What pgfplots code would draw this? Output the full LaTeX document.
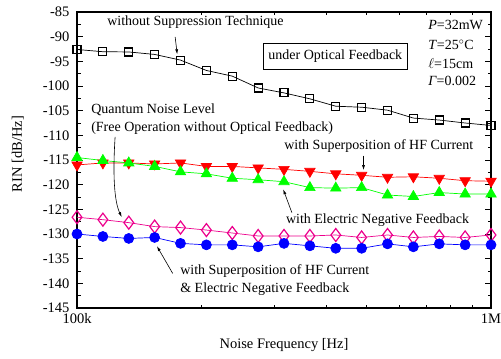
\documentclass[border=0pt]{standalone}
\usepackage{fontspec}
\setmainfont{Liberation Serif}
\usepackage{pgfplots}
\pgfplotsset{compat=1.18}
\usepackage{pgfplotstable}
\usetikzlibrary{arrows.meta}

\pgfplotstableread{
f       bk      red     green   pink    blue
100000  -92.6   -116.0  -114.5  -126.6  -130.0
115478  -93.05  -115.6  -115.1  -127.1  -130.5
133352  -93.1   -115.6  -115.6  -127.7  -130.9
153993  -93.6   -115.8  -116.3  -128.5  -130.7
177828  -94.75  -115.6  -117.4  -128.7  -131.9
205353  -96.85  -116.3  -117.8  -129.2  -132.2
237137  -98.0   -116.3  -118.7  -129.8  -132.2
273842  -100.4  -116.6  -119.0  -130.4  -132.6
316228  -101.4  -116.9  -119.4  -130.4  -131.9
365174  -102.6  -117.3  -120.6  -130.4  -132.4
421697  -104.1  -117.8  -120.7  -130.2  -132.9
486968  -104.3  -118.1  -120.6  -130.7  -132.9
562341  -104.9  -118.5  -122.1  -130.2  -132.0
649382  -106.5  -118.4  -122.4  -130.7  -132.6
749894  -106.9  -118.7  -121.6  -130.5  -132.0
865964  -107.5  -119.2  -121.9  -130.7  -132.2
1000000 -108.0  -119.3  -121.9  -130.2  -132.2
}\data

\begin{document}
\begin{tikzpicture}
\begin{axis}[
  scale only axis, width=414pt, height=296pt,
  xmode=log, xmin=1e5, xmax=1e6, ymin=-145, ymax=-85,
  xtick={1e5,1e6}, xticklabels={100k,1M},
  minor xtick={2e5,3e5,4e5,5e5,6e5,7e5,8e5,9e5},
  ytick={-145,-140,-135,-130,-125,-120,-115,-110,-105,-100,-95,-90,-85},
  yticklabels={-145,-140,-135,-130,-125,-120,-115,-110,-105,-100,-95,-90,-85},
  minor y tick num=1,
  tick align=inside, major tick length=6pt, minor tick length=3.5pt,
  axis line style={line width=1.2pt},
  every tick/.style={black, line width=0.9pt},
  xlabel={Noise Frequency [Hz]}, ylabel={RIN [dB/Hz]},
  tick label style={font=\fontsize{14.5}{16}\selectfont},
  xticklabel style={yshift=-2pt},
  yticklabel style={xshift=-4pt},
  label style={font=\fontsize{14.5}{17}\selectfont},
  xlabel style={at={(axis description cs:0.5,-0.125)}, anchor=center},
  ylabel style={at={(axis description cs:-0.143,0.52)}, anchor=center},
  clip=false,
]
\addplot[black, line width=0.7pt, mark=square, mark size=4pt, mark options={line width=1.1pt, fill=white}] table[x=f,y=bk] {\data};
\addplot[red, line width=0.7pt, mark=triangle*, mark size=6pt, mark options={rotate=180}] table[x=f,y=red] {\data};
\addplot[green, line width=0.7pt, mark=triangle*, mark size=6pt] table[x=f,y=green] {\data};
\addplot[magenta, line width=0.7pt, mark=diamond, mark size=6.5pt, mark options={line width=1.2pt, fill=white}] table[x=f,y=pink] {\data};
\addplot[blue, line width=0.7pt, mark=*, mark size=5pt] table[x=f,y=blue] {\data};

\tikzset{ann/.style={font=\fontsize{14}{16}\selectfont, inner sep=0pt}, arr/.style={-{Latex[length=5pt,width=3pt]}, line width=0.6pt, black}}

\node[ann] at (rel axis cs:0.286,0.966) {without Suppression Technique};
\draw[arr] (rel axis cs:0.237,0.916) -- (rel axis cs:0.242,0.857);

\node[ann, draw, line width=0.7pt, inner xsep=5pt, inner ysep=7pt] at (rel axis cs:0.624,0.850) {under Optical Feedback};

\node[ann, anchor=west] at (rel axis cs:0.848,0.956) {\textit{P}=32mW};
\node[ann, anchor=west] at (rel axis cs:0.848,0.889) {\textit{T}=25$^{\circ}$C};
\node[ann, anchor=west] at (rel axis cs:0.848,0.826) {$\ell$=15cm};
\node[ann, anchor=west] at (rel axis cs:0.848,0.767) {\textit{Γ}=0.002};

\node[ann, anchor=west] at (rel axis cs:0.034,0.669) {Quantum Noise Level};
\node[ann, anchor=west] at (rel axis cs:0.034,0.608) {(Free Operation without Optical Feedback)};
\draw[arr] (rel axis cs:0.092,0.578) .. controls (rel axis cs:0.086,0.45) and (rel axis cs:0.090,0.36) .. (rel axis cs:0.108,0.307);

\node[ann] at (rel axis cs:0.729,0.547) {with Superposition of HF Current};
\draw[arr] (rel axis cs:0.692,0.515) -- (rel axis cs:0.692,0.466);

\node[ann] at (rel axis cs:0.726,0.297) {with Electric Negative Feedback};
\draw[arr] (rel axis cs:0.519,0.322) -- (rel axis cs:0.498,0.401);

\node[ann, anchor=west] at (rel axis cs:0.249,0.126) {with Superposition of HF Current};
\node[ann, anchor=west] at (rel axis cs:0.249,0.063) {\& Electric Negative Feedback};
\draw[arr] (rel axis cs:0.231,0.117) -- (rel axis cs:0.193,0.209);
\end{axis}
\pgfresetboundingbox
\path ([shift={(-77pt,-51pt)}]current axis.south west) rectangle ([shift={(10pt,12pt)}]current axis.north east);
\end{tikzpicture}
\end{document}
